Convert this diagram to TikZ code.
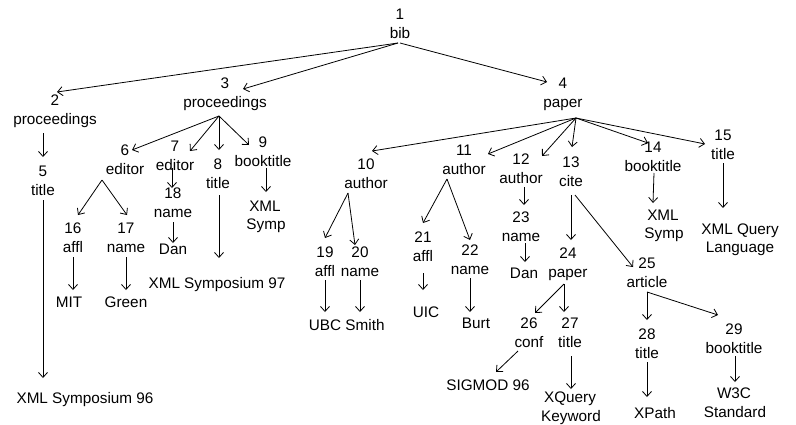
\documentclass[tikz,border=0pt]{standalone}
\usepackage{fontspec}
\setmainfont{Liberation Sans}
\usetikzlibrary{arrows.meta}
\newcommand\tn[4]{\node[lab] (n#1) at (#2,#3) {#1};
  \node[lab] (l#1) at (#2,#3+18.5) {#4};}
\newcommand\ed[4]{\draw[edge] ([shift={#2}]#1) -- ([shift={#4}]#3);}
\begin{document}
\begin{tikzpicture}[x=1pt,y=-1pt,
  lab/.style={inner sep=0pt, anchor=base, font=\fontsize{15.3}{18.5}\selectfont},
  edge/.style={draw, line width=0.8pt, -{Straight Barb[length=5pt,width=9pt]}}]
\useasboundingbox[fill=white] (0,0) rectangle (796,424);
% tree nodes: number + label
\tn{1}{400}{19.5}{bib}
\tn{2}{55}{105.5}{proceedings}
\tn{3}{225}{88.5}{proceedings}
\tn{4}{563}{88.5}{paper}
\tn{5}{43}{176.5}{title}
\tn{6}{125}{155.5}{editor}
\tn{7}{175}{151.5}{editor}
\tn{8}{218}{169.5}{title}
\tn{9}{263}{147.5}{booktitle}
\tn{10}{366}{169.5}{author}
\tn{11}{464}{155.5}{author}
\tn{12}{521}{164.5}{author}
\tn{13}{571}{167.5}{cite}
\tn{14}{653}{152.5}{booktitle}
\tn{15}{723}{140.5}{title}
\tn{16}{73}{233.5}{affl}
\tn{17}{126}{233.5}{name}
\tn{18}{173}{198.5}{name}
\tn{19}{325}{257.5}{affl}
\tn{20}{360}{257.5}{name}
\tn{21}{423}{242.5}{affl}
\tn{22}{470}{255.5}{name}
\tn{23}{521}{222.5}{name}
\tn{24}{568}{258.5}{paper}
\tn{25}{647}{268.5}{article}
\tn{26}{529}{328.5}{conf}
\tn{27}{570}{328.5}{title}
\tn{28}{647}{339.5}{title}
\tn{29}{734}{334.5}{booktitle}
% leaf values
\node[lab] (v5) at (85,403.5) {XML Symposium 96};
\node[lab] (v16) at (69,307.5) {MIT};
\node[lab] (v17) at (126,307.5) {Green};
\node[lab] (v18) at (173,254.5) {Dan};
\node[lab] (v8) at (217,288.5) {XML Symposium 97};
\node[lab] (v9) at (265,211.5) {XML};
\node[lab] (v9b) at (266,229) {Symp};
\node[lab] (v19) at (325,330.5) {UBC};
\node[lab] (v20) at (365,330.5) {Smith};
\node[lab] (v21) at (426,317.5) {UIC};
\node[lab] (v22) at (476,328.5) {Burt};
\node[lab] (v23) at (524,278.5) {Dan};
\node[lab] (v26) at (488,390.5) {SIGMOD 96};
\node[lab] (v27) at (570,402.5) {XQuery};
\node[lab] (v27b) at (571,421.5) {Keyword};
\node[lab] (v28) at (655,418.5) {XPath};
\node[lab] (v29) at (734,398.5) {W3C};
\node[lab] (v29b) at (735,417.5) {Standard};
\node[lab] (v14) at (663,220.5) {XML};
\node[lab] (v14b) at (664,238) {Symp};
\node[lab] (v15) at (740,234.5) {XML Query};
\node[lab] (v15b) at (740,252) {Language};
% edges
\ed{l1.base}{(-2,5)}{n2.base}{(2,-13.5)}
\ed{l1.base}{(-2,5)}{n3.base}{(18,0.5)}
\ed{l1.base}{(0,5)}{n4.base}{(-16,-6.5)}
\ed{l2.base}{(-12,9)}{n5.base}{(0,-19.5)}
\ed{l3.base}{(-6,9)}{n6.base}{(7,-5.5)}
\ed{l3.base}{(-6,9)}{n7.base}{(15,-0.5)}
\ed{l3.base}{(-6,9)}{n8.base}{(1,-19.5)}
\ed{l3.base}{(-6,9)}{n9.base}{(-14,-2.5)}
\ed{l4.base}{(13,11)}{n10.base}{(6,-18.5)}
\ed{l4.base}{(13,11)}{n11.base}{(24,-1.5)}
\ed{l4.base}{(13,11)}{n12.base}{(21,-8.5)}
\ed{l4.base}{(13,11)}{n13.base}{(1,-20.5)}
\ed{l4.base}{(13,11)}{n14.base}{(-5,-9.5)}
\ed{l4.base}{(13,11)}{n15.base}{(-18,3.5)}
\ed{l5.base}{(0,5)}{v5.base}{(-42,-25.5)}
\ed{l6.base}{(-23,6)}{n16.base}{(5,-18.5)}
\ed{l6.base}{(-23,6)}{n17.base}{(1,-18.5)}
\ed{l7.base}{(-3,-2)}{n18.base}{(-1,-10.5)}
\ed{l8.base}{(1,7)}{v8.base}{(2,-30.5)}
\ed{l9.base}{(3,2)}{v9.base}{(1,-19.5)}
\ed{l10.base}{(-18,5)}{n19.base}{(0,-19.5)}
\ed{l10.base}{(-18,5)}{n20.base}{(-5,-12.5)}
\ed{l11.base}{(-17,5)}{n21.base}{(0,-19.5)}
\ed{l11.base}{(-17,5)}{n22.base}{(0,-15.5)}
\ed{l12.base}{(3,4)}{n23.base}{(3,-17.5)}
\ed{l13.base}{(0,9)}{n24.base}{(3,-18.5)}
\ed{l13.base}{(4,9)}{n25.base}{(-14,-1.5)}
\ed{l14.base}{(1,2)}{v14.base}{(-10,-17.5)}
\ed{l15.base}{(0,4)}{v15.base}{(-17,-26.5)}
\ed{l16.base}{(0,5)}{v16.base}{(4,-17.5)}
\ed{l17.base}{(0,5)}{v17.base}{(0,-17.5)}
\ed{l18.base}{(0,5)}{v18.base}{(0,-11.5)}
\ed{l19.base}{(0,4)}{v19.base}{(0,-18.5)}
\ed{l20.base}{(0,4)}{v20.base}{(-5,-18.5)}
\ed{l21.base}{(0,12)}{v21.base}{(-3,-27.5)}
\ed{l22.base}{(0,4)}{v22.base}{(-6,-16.5)}
\ed{l23.base}{(4,2)}{v23.base}{(1,-16.5)}
\ed{l24.base}{(-4,7)}{n26.base}{(6,-15.5)}
\ed{l24.base}{(-4,7)}{n27.base}{(-6,-16.5)}
\ed{l25.base}{(0,5)}{n28.base}{(0,-19.5)}
\ed{l25.base}{(0,5)}{n29.base}{(-16,-19.5)}
\ed{l26.base}{(-11,4)}{v26.base}{(8,-18.5)}
\ed{l27.base}{(1,9)}{v27.base}{(1,-13.5)}
\ed{l28.base}{(0,4)}{v28.base}{(-8,-21.5)}
\ed{l29.base}{(1,3)}{v29.base}{(1,-16.5)}
\end{tikzpicture}
\end{document}
